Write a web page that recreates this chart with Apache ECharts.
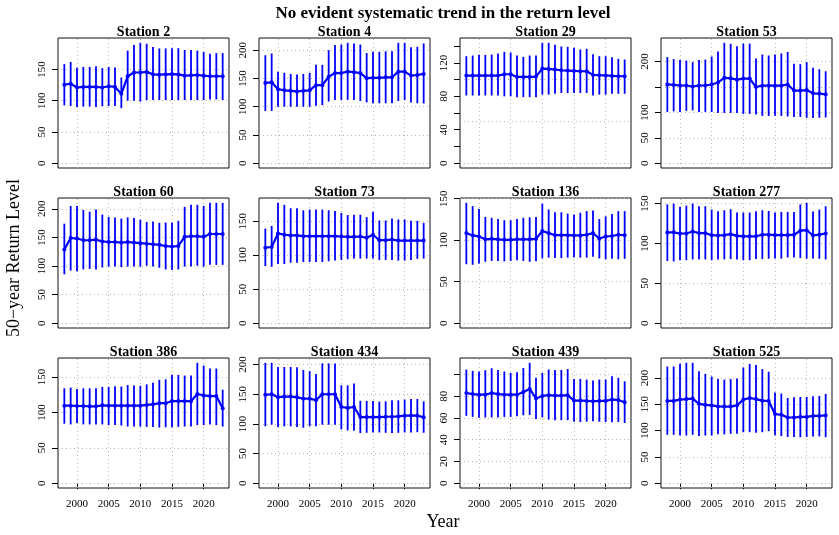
<!DOCTYPE html>
<html>
<head>
<meta charset="utf-8">
<script src="https://cdn.jsdelivr.net/npm/echarts@6/dist/echarts.min.js"></script>
<style>
  html, body { margin: 0; background: #fff; }
  #chart { width: 839px; height: 535px; }
</style>
</head>
<body>
<div id="chart"></div>
<script>
const years = [1998, 1999, 2000, 2001, 2002, 2003, 2004, 2005, 2006, 2007, 2008, 2009, 2010,
  2011, 2012, 2013, 2014, 2015, 2016, 2017, 2018, 2019, 2020, 2021, 2022, 2023];
const xTicks = [2000, 2005, 2010, 2015, 2020];
const stationNames = ['Station 2', 'Station 4', 'Station 29', 'Station 53', 'Station 60', 'Station 73',
  'Station 136', 'Station 277', 'Station 386', 'Station 434', 'Station 439', 'Station 525'];

// estimate / lower / upper of the 50-year return level
const est2 = [125.5, 127, 121, 122, 122, 122, 121, 123, 122, 111, 139, 145, 145, 146, 142, 141.5, 142, 142.5, 142, 140, 140.5, 141, 140, 139, 139, 139];
const low2 = [92.5, 91.5, 90, 90.5, 90.5, 90, 91, 91.5, 91.5, 88, 100, 100, 98.5, 101, 101, 101, 101, 101, 101, 101, 101, 101, 101, 102, 102, 101];
const up2 = [158.5, 162, 152.7, 154, 154, 155, 152, 154, 153, 137, 180, 189, 192.5, 191, 186, 183.5, 183.5, 184, 184, 181, 181, 180, 178, 175, 176, 176];

const est4 = [142, 143, 131, 129, 128, 127, 128, 129, 138, 138, 153, 159.5, 159.5, 162, 161, 159.5, 150.5, 151, 151, 152, 152, 162, 162, 155, 156, 158];
const low4 = [92.5, 92.5, 99.7, 100, 100, 100, 100, 100, 101.5, 102.7, 109, 111.6, 111.6, 112, 111.6, 110, 107.5, 106, 106, 106, 106, 110, 111.6, 107.5, 106, 105.7];
const up4 = [191, 194, 162, 160, 158, 157, 158, 160, 174, 174, 200, 209, 210, 213, 212, 210, 195, 197, 197, 198, 198, 213, 213, 205, 206, 212];

const est29 = [104.8, 104.8, 104.8, 104.8, 104.8, 104.8, 106.4, 106.4, 103.2, 103.2, 103.2, 103.6, 113.2, 112.8, 112, 111.2, 110.8, 110.4, 110, 110, 105.6, 105.2, 105, 104.4, 104, 104];
const low29 = [81, 81, 81, 81, 81, 81, 80, 80, 79, 79, 79, 79, 82, 82, 83, 84, 84, 84, 84, 84, 81, 82, 82, 83, 83, 83];
const up29 = [128, 128.8, 129.6, 129.6, 130, 131.2, 133.2, 132.4, 128.8, 127.2, 128.8, 128.8, 144, 144, 141.6, 139.6, 139.2, 138, 136, 136.8, 130.4, 128, 128, 126.8, 124.8, 124];

const est53 = [155, 154, 153, 153, 151, 153, 153, 155, 159, 168, 167, 164.5, 166.5, 166.5, 150, 152.6, 152.6, 152.6, 152.6, 155, 143, 143, 144, 137.5, 137, 135.5];
const low53 = [101, 102, 100.7, 103, 104, 101, 101, 100.7, 99, 99, 99, 99, 97, 97, 96, 93, 93, 93.5, 93, 92, 91, 91, 89.5, 89, 89.5, 90];
const up53 = [209, 205, 203, 202, 199, 203, 204, 210, 220, 237, 235, 230, 235.5, 235.5, 206, 214, 212, 214, 216, 219, 196, 195, 199, 188, 185, 181];

const est60 = [129, 149, 148, 145, 145, 146, 143, 142, 142, 141, 142, 141, 140, 139, 138, 137, 135, 134, 135, 151, 152, 152, 151, 156, 156, 156];
const low60 = [85.5, 92, 91, 94, 95, 94, 97.5, 99, 99, 98, 99, 99, 99, 100.5, 99, 97, 94, 93, 94, 99, 99, 100.5, 99, 102, 102, 102];
const up60 = [174, 205, 205, 198, 195, 199, 190, 186, 185, 183, 185, 184, 181, 177, 178, 175.5, 176, 176, 179, 203.5, 207, 207, 205, 210.5, 210.5, 210.5];

const est73 = [111, 112, 132, 130, 129, 129, 128, 128, 128, 128, 128, 128, 127.5, 127, 127, 127.5, 125.5, 130, 122, 122, 123, 121.5, 121.5, 121.5, 121.5, 121.5];
const low73 = [84, 83, 87, 87, 89, 89, 90, 90, 90, 90, 91, 92, 93, 94, 95, 95, 95, 95, 93, 93, 93, 92, 92, 93, 94.6, 95];
const up73 = [139, 143, 177, 174, 169, 169, 166, 167, 167, 167, 166, 165, 162, 159, 159.5, 159.5, 156, 164, 151, 151, 154, 152.5, 152.5, 150.5, 150.5, 147.5];

const est136 = [108.5, 105.7, 104.5, 101, 101.6, 101, 100.4, 100.4, 101, 101, 101, 101.5, 111, 108.5, 106, 106, 106, 105.7, 105.7, 106.5, 108.5, 102, 104.5, 105, 106.5, 106];
const low136 = [71, 70.4, 72, 74, 75, 75, 74.5, 75, 75.7, 75, 74, 74.5, 78, 79, 78.5, 78.5, 79, 79, 79, 79, 80, 78, 77, 77.5, 77, 77.5];
const up136 = [145, 141, 137.6, 128, 127, 125.5, 124, 124, 125.5, 127, 127.5, 128, 144, 137, 133.6, 133.6, 132, 131, 133, 135, 135.6, 125.5, 128.7, 131.6, 135, 135];

const est277 = [113.8, 114, 112.5, 112.5, 115, 113, 113, 110.4, 110, 110.4, 111.7, 109.6, 109, 109, 109, 111, 111, 110.5, 110.5, 110.5, 111, 116, 116.7, 110, 111, 112.5];
const low277 = [78, 77.5, 79, 79, 80, 80, 80, 79, 80, 80, 80.4, 80, 79, 79, 80.4, 80.4, 80.8, 81, 81, 82.5, 82.5, 81.7, 81, 81, 80.8, 80];
const up277 = [149, 150, 146, 147.5, 150, 146.7, 146.7, 142.5, 140.4, 141.7, 143, 138.8, 138.8, 138.8, 140.4, 141.7, 140.8, 138.8, 139.6, 139.6, 139.6, 149, 151, 140, 142.5, 146.7];

const est386 = [109.5, 109.5, 109, 109, 108.5, 108.5, 110, 109.5, 109.5, 109.5, 109.5, 109.5, 109.5, 110.5, 111.4, 113, 113, 116, 116, 116, 115.7, 126, 124, 123, 123, 105.7];
const low386 = [84, 83, 85, 83, 83, 83, 83, 82, 82, 81.4, 80, 80, 80, 79.5, 79.5, 78.6, 79, 79, 79.5, 80, 80, 82, 82, 83, 82, 80];
const up386 = [134, 135, 133, 134, 134, 134, 136, 136, 137, 136.5, 138.6, 138, 137.6, 139.5, 142, 146, 146.7, 153, 153, 152, 152, 170, 166, 162, 162, 132];

const est434 = [149, 150, 145, 146, 146, 145, 142.5, 142.5, 140, 150, 150, 150, 128.5, 127, 128.5, 111.5, 111.5, 111.5, 111.5, 112, 112, 112.7, 113.8, 114, 114, 111];
const low434 = [96, 98.6, 94.6, 95.8, 95.8, 94.6, 93.5, 96, 96, 98.6, 98.6, 98.6, 90.7, 89, 88.5, 84.5, 85, 85.5, 85.5, 85, 84.5, 85, 85.5, 85.5, 86, 85];
const up434 = [203, 203, 196, 196, 196, 195.5, 191, 189, 184, 202, 202, 202, 165, 165, 168, 139, 138.6, 138.6, 137.5, 138, 139.7, 139.7, 141, 142, 142, 138];

const est439 = [83, 82, 81.5, 81.5, 83, 82, 81.5, 81.5, 81.5, 84, 86.8, 78, 80.3, 81, 80.6, 80.6, 81, 76, 76, 75.7, 75.4, 75.7, 75.7, 77, 76.6, 74.5];
const low439 = [62, 61, 60.3, 60.5, 60.5, 60.5, 61, 61, 61.5, 62.5, 62.8, 59, 60.5, 58.5, 58, 58, 58, 56.6, 56.3, 56.6, 57, 56.6, 56.3, 56, 56.3, 55.4];
const up439 = [104.6, 103.4, 102.8, 104, 105.8, 104.3, 102.8, 101.5, 102, 106, 110.8, 97, 101.5, 104.6, 104.3, 104.3, 105, 96, 96, 95.4, 94.5, 95.4, 95.4, 98.5, 97, 93.8];

const est525 = [156.5, 156.5, 159, 160, 161, 151, 149, 148, 146, 145.7, 145.7, 148, 159, 162, 160, 157, 156.5, 131.6, 130, 125, 125, 126, 126, 128, 128, 129];
const low525 = [92, 92, 90.7, 90.7, 92, 90, 90.7, 90.7, 93, 93, 94, 94, 97, 97, 96, 97, 99, 91, 89.5, 88, 88, 87.5, 88, 89, 89, 87.5];
const up525 = [222, 222, 227, 229, 229, 213, 208, 203, 198, 197, 198, 199, 220, 227, 225, 217, 212, 172.5, 170.6, 162, 163.6, 164, 164, 165.5, 166, 170];

// y tick positions and the labels actually printed
const ticks50 = [0, 50, 100, 150];
const ticks50to200 = [0, 50, 100, 150, 200];
const ticks29 = [0, 20, 40, 60, 80, 100, 120, 140];
const labels29 = [0, 40, 80, 120];
const grid29 = [0, 50, 100];
const labels53 = [0, 50, 100, 200];
const ticks439 = [0, 20, 40, 60, 80, 100];
const labels439 = [0, 20, 40, 60, 80];

const panels = [
  { est: est2, low: low2, up: up2, ticks: ticks50, labels: ticks50 },
  { est: est4, low: low4, up: up4, ticks: ticks50to200, labels: ticks50to200 },
  { est: est29, low: low29, up: up29, ticks: ticks29, labels: labels29, grid: grid29 },
  { est: est53, low: low53, up: up53, ticks: ticks50to200, labels: labels53 },
  { est: est60, low: low60, up: up60, ticks: ticks50to200, labels: ticks50to200 },
  { est: est73, low: low73, up: up73, ticks: ticks50, labels: ticks50 },
  { est: est136, low: low136, up: up136, ticks: ticks50, labels: ticks50 },
  { est: est277, low: low277, up: up277, ticks: ticks50, labels: ticks50 },
  { est: est386, low: low386, up: up386, ticks: ticks50, labels: ticks50 },
  { est: est434, low: low434, up: up434, ticks: ticks50to200, labels: ticks50to200 },
  { est: est439, low: low439, up: up439, ticks: ticks439, labels: labels439 },
  { est: est525, low: low525, up: up525, ticks: ticks50to200, labels: ticks50to200 }
];

const FONT = 'Liberation Serif';
const BLUE = '#0000ff';
const boxLeft = (i) => 58 + 201 * (i % 4);
const boxTop = (i) => 38 + 160 * Math.floor(i / 4);

const chart = echarts.init(document.getElementById('chart'));

const grids = [], xAxes = [], yAxes = [], series = [], titles = [];

panels.forEach((p, i) => {
  const bottomRow = Math.floor(i / 4) === 2;
  const m = Math.max(...p.up);
  grids.push({
    left: boxLeft(i), top: boxTop(i), width: 171, height: 130,
    show: true, borderColor: '#111', borderWidth: 1, backgroundColor: 'transparent'
  });
  xAxes.push({
    type: 'value', gridIndex: i, min: 1997, max: 2024,
    axisLine: { show: false },
    splitLine: { show: false },
    axisTick: { show: bottomRow, customValues: xTicks, length: 6, lineStyle: { color: '#000' } },
    axisLabel: {
      show: bottomRow, customValues: xTicks, margin: 11, color: '#000',
      fontFamily: FONT, fontSize: 11, formatter: (v) => String(v)
    }
  });
  yAxes.push({
    type: 'value', gridIndex: i, min: -0.04 * m, max: 1.04 * m,
    axisLine: { show: false },
    splitLine: { show: false },
    axisTick: { show: true, customValues: p.ticks, length: 6, lineStyle: { color: '#000' } },
    axisLabel: {
      customValues: p.labels, rotate: 90, margin: 10, color: '#000',
      fontFamily: FONT, fontSize: 11, formatter: (v) => String(v)
    }
  });
  // dotted reference grid
  series.push({
    type: 'line', xAxisIndex: i, yAxisIndex: i, silent: true, z: 1,
    data: years.map((y, k) => [y, p.est[k]]),
    showSymbol: false, lineStyle: { opacity: 0 },
    markLine: {
      silent: true, z: 1, symbol: ['none', 'none'], label: { show: false },
      lineStyle: { color: '#b8b8b8', type: [1, 3], width: 1 },
      data: xTicks.map(v => ({ xAxis: v })).concat((p.grid || p.ticks).map(v => ({ yAxis: v })))
    }
  });
  // confidence bars
  series.push({
    type: 'custom', xAxisIndex: i, yAxisIndex: i, z: 2,
    data: years.map((y, k) => [y, p.low[k], p.up[k]]),
    encode: { x: 0, y: [1, 2] },
    renderItem: (params, api) => {
      const a = api.coord([api.value(0), api.value(1)]);
      const b = api.coord([api.value(0), api.value(2)]);
      return {
        type: 'line',
        shape: { x1: a[0], y1: a[1], x2: b[0], y2: b[1] },
        style: { stroke: BLUE, lineWidth: 1.8 }
      };
    }
  });
  // estimate line
  series.push({
    type: 'line', xAxisIndex: i, yAxisIndex: i, z: 3,
    data: years.map((y, k) => [y, p.est[k]]),
    symbol: 'circle', symbolSize: 4,
    itemStyle: { color: BLUE },
    lineStyle: { color: BLUE, width: 2.2 }
  });
  titles.push({
    text: stationNames[i], left: boxLeft(i) + 85.5, top: boxTop(i) - 13, textAlign: 'center', padding: 0,
    textStyle: { fontFamily: FONT, fontSize: 14, fontWeight: 'bold', color: '#000' }
  });
});

titles.push({
  text: 'No evident systematic trend in the return level', left: 443, top: 5, textAlign: 'center', padding: 0,
  textStyle: { fontFamily: FONT, fontSize: 17, fontWeight: 'bold', color: '#000' }
});
titles.push({
  text: 'Year', left: 443, top: 513, textAlign: 'center', padding: 0,
  textStyle: { fontFamily: FONT, fontSize: 18, fontWeight: 'normal', color: '#000' }
});

chart.setOption({
  animation: false,
  backgroundColor: '#fff',
  title: titles,
  grid: grids,
  xAxis: xAxes,
  yAxis: yAxes,
  series: series,
  graphic: [{
    type: 'text', x: 14, y: 258, rotation: Math.PI / 2,
    style: { text: '50−year Return Level', font: '18px "Liberation Serif"', fill: '#000', align: 'center', verticalAlign: 'middle' }
  }]
});
</script>
</body>
</html>
